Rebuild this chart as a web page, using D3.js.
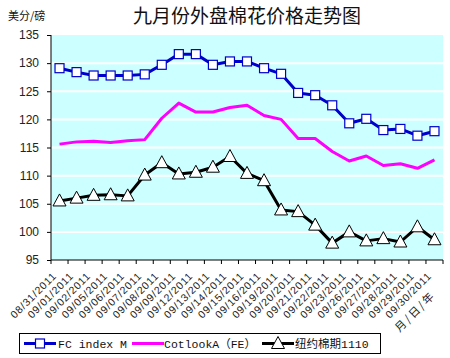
<!DOCTYPE html>
<html>
<head>
<meta charset="utf-8">
<script src="https://cdn.jsdelivr.net/npm/d3@7"></script>
<style>
   body { margin: 0; background: #fff; }
   text { font-family: "Liberation Sans", "Noto Sans CJK SC", sans-serif; }
   .cjk { font-family: "Noto Sans CJK SC", sans-serif; }
   .mono { font-family: "Liberation Mono", "Noto Sans CJK SC", monospace; }
</style>
</head>
<body>
<svg id="chart" width="450" height="358"></svg>
<script>
// Data
var dates = ["08/31/2011", "09/01/2011", "09/02/2011", "09/05/2011", "09/06/2011",
   "09/07/2011", "09/08/2011", "09/09/2011", "09/12/2011", "09/13/2011", "09/14/2011",
   "09/15/2011", "09/16/2011", "09/19/2011", "09/20/2011", "09/21/2011", "09/22/2011",
   "09/23/2011", "09/26/2011", "09/27/2011", "09/28/2011", "09/29/2011", "09/30/2011"];
var fcIndex = [129.1, 128.4, 127.8, 127.8, 127.8, 128.0, 129.7, 131.6, 131.6, 129.7, 130.3,
   130.3, 129.1, 128.1, 124.7, 124.3, 122.5, 119.3, 120.1, 118.1, 118.3, 117.1, 117.9];
var cotlook = [115.6, 116.0, 116.1, 115.9, 116.2, 116.4, 120.2, 122.9, 121.3, 121.3, 122.1,
   122.5, 120.7, 120.0, 116.6, 116.6, 114.3, 112.6, 113.5, 111.8, 112.1, 111.3, 112.8];
var nyFutures = [105.5, 106.0, 106.5, 106.6, 106.4, 110.1, 112.3, 110.3, 110.6, 111.5, 113.4,
   110.4, 109.1, 103.9, 103.6, 101.2, 98.0, 100.0, 98.4, 98.8, 98.2, 100.9, 98.6];
var yTicks = [95, 100, 105, 110, 115, 120, 125, 130, 135];
var seriesNames = ["FC index M", "CotlookA（FE）", "纽约棉期1110"];

var svg = d3.select("#chart");
var plotL = 51, plotR = 443, plotT = 35, plotB = 260;

var x = d3.scaleBand().domain(dates).range([plotL, plotR]);
var y = d3.scaleLinear().domain([95, 135]).range([plotB, plotT]);
var cx = function(i) { return x(dates[i]) + x.bandwidth() / 2; };

// plot background
svg.append("rect")
   .attr("x", plotL).attr("y", plotT)
   .attr("width", plotR - plotL).attr("height", plotB - plotT)
   .attr("fill", "#ccffff");

// gridlines
svg.append("g").selectAll("line")
   .data(yTicks.slice(1, -1))
   .enter().append("line")
      .attr("x1", plotL).attr("x2", plotR)
      .attr("y1", d => y(d)).attr("y2", d => y(d))
      .attr("stroke", "#fff").attr("stroke-width", 2);

// y axis
var yAxis = svg.append("g")
   .attr("transform", "translate(" + plotL + ",0)")
   .call(d3.axisLeft(y).tickValues(yTicks).tickSize(4).tickPadding(8));
yAxis.select(".domain").attr("stroke", "#000").attr("d", "M0," + plotT + "V" + plotB);
yAxis.selectAll("text").attr("font-size", 12).attr("fill", "#222")
   .style("font-family", "Liberation Sans");

// x axis: ticks at band edges
var xAxis = svg.append("g").attr("transform", "translate(0," + plotB + ")");
xAxis.append("line").attr("x1", plotL).attr("x2", plotR).attr("stroke", "#000");
xAxis.selectAll(".tk")
   .data(d3.range(dates.length + 1))
   .enter().append("line")
      .attr("x1", i => plotL + i * x.step()).attr("x2", i => plotL + i * x.step())
      .attr("y1", 0).attr("y2", 4).attr("stroke", "#000");
xAxis.selectAll(".lbl")
   .data(dates)
   .enter().append("text")
      .attr("transform", (d, i) => "translate(" + (cx(i) - 5) + ",14) rotate(-45)")
      .attr("text-anchor", "end")
      .attr("dy", "0.35em")
      .attr("font-size", 10.5)
      .attr("letter-spacing", 0.8)
      .attr("fill", "#222")
      .text(d => d);

svg.append("text")
   .attr("class", "cjk")
   .attr("transform", "translate(436,296) rotate(-45)")
   .attr("text-anchor", "end")
   .attr("font-size", 11)
   .attr("letter-spacing", 2)
   .attr("fill", "#222")
   .text("月/日/年");

// lines
var line = d3.line().x((d, i) => cx(i)).y(d => y(d));
var series = [
   {vals: fcIndex, color: "#0000cc", marker: "square"},
   {vals: cotlook, color: "#ff00ff", marker: "none"},
   {vals: nyFutures, color: "#000", marker: "triangle"}
];

series.forEach(function(s) {
   svg.append("path")
      .attr("d", line(s.vals))
      .attr("fill", "none")
      .attr("stroke", s.color)
      .attr("stroke-width", 3)
      .attr("stroke-linejoin", "round");
});

function drawMarker(g, type, color, px, py) {
   if (type == "square") {
      g.append("rect")
         .attr("x", px - 4.5).attr("y", py - 4.5)
         .attr("width", 9).attr("height", 9)
         .attr("fill", "#fff").attr("stroke", color).attr("stroke-width", 1.2);
   } else if (type == "triangle") {
      g.append("path")
         .attr("d", "M" + px + "," + (py - 7) + "L" + (px + 6.5) + "," + (py + 5) + "L" + (px - 6.5) + "," + (py + 5) + "Z")
         .attr("fill", "#fff").attr("stroke", "#000").attr("stroke-width", 1);
   }
}

series.forEach(function(s) {
   var g = svg.append("g");
   s.vals.forEach(function(v, i) { drawMarker(g, s.marker, s.color, cx(i), y(v)); });
});

// titles
svg.append("text")
   .attr("class", "cjk")
   .attr("x", 247).attr("y", 23)
   .attr("text-anchor", "middle")
   .attr("font-size", 19)
   .attr("fill", "#111")
   .text("九月份外盘棉花价格走势图");

svg.append("text")
   .attr("class", "cjk")
   .attr("x", 8).attr("y", 20)
   .attr("font-size", 11)
   .attr("fill", "#111")
   .text("美分/磅");

// legend
var legend = svg.append("g");
legend.append("rect")
   .attr("x", 19.5).attr("y", 333.5).attr("width", 361).attr("height", 20)
   .attr("fill", "#fff").attr("stroke", "#000");
var legX = [24, 132, 262];
var textX = [58, 164, 295];
series.forEach(function(s, i) {
   legend.append("line")
      .attr("x1", legX[i]).attr("x2", legX[i] + 32)
      .attr("y1", 343.5).attr("y2", 343.5)
      .attr("stroke", s.color).attr("stroke-width", 3);
   drawMarker(legend, s.marker, s.color, legX[i] + 16, 343.5);
   legend.append("text")
      .attr("class", "mono")
      .attr("x", textX[i]).attr("y", 348)
      .attr("font-size", 11.5)
      .attr("fill", "#111")
      .text(seriesNames[i]);
});
</script>
</body>
</html>
